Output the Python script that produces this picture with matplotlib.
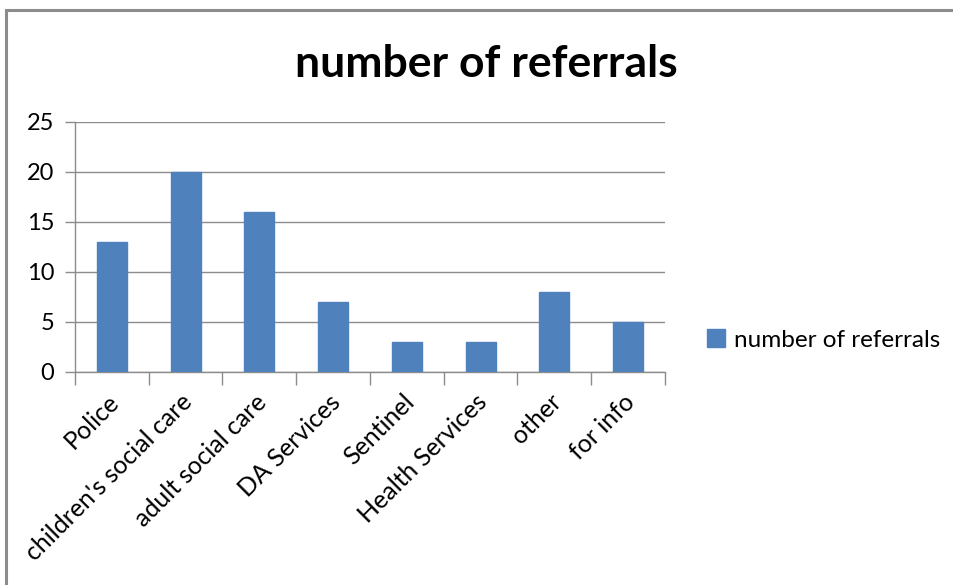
import matplotlib
matplotlib.use("Agg")
import matplotlib.pyplot as plt
import matplotlib.transforms as mtransforms
from matplotlib.patches import Rectangle
import numpy as np

categories = ["Police", "children's social care", "adult social care", "DA Services",
              "Sentinel", "Health Services", "other", "for info"]
referrals = [13, 20, 16, 7, 3, 3, 8, 5]
series_name = "number of referrals"
y_ticks = [0, 5, 10, 15, 20, 25]

W, H = 954, 585
fig = plt.figure(figsize=(W / 100, H / 100), dpi=100)
plt.rcParams['font.family'] = ['Lato', 'DejaVu Sans']

# outer chart frame
fig.patches.append(Rectangle((6 / W, -0.1), 1.2, 1 - 10 / H + 0.1, transform=fig.transFigure,
                             fill=False, edgecolor='#8c8c8c', linewidth=2.2))

left, right, top, bottom = 75, 665, 122, 372
ax = fig.add_axes([left / W, 1 - bottom / H, (right - left) / W, (bottom - top) / H])

x = np.arange(len(categories))
ax.bar(x, referrals, width=0.41, color='#4f81bd', edgecolor='#4f81bd', zorder=3,
       label=series_name)

ax.set_xlim(-0.5, len(categories) - 0.5)
ax.set_ylim(0, 25)
ax.set_yticks(y_ticks)
ax.set_yticklabels([str(v) for v in y_ticks], fontsize=17)
ax.yaxis.grid(True, color='#8c8c8c', linewidth=1.0, zorder=0)
ax.tick_params(axis='y', length=7, color='#8c8c8c', pad=8, width=1)

# category tick marks sit on boundaries, labels sit on bar centres
ax.set_xticks(np.arange(len(categories) + 1) - 0.5)
ax.set_xticklabels([])
ax.tick_params(axis='x', which='major', length=9, color='#8c8c8c', width=1)
ax.set_xticks(x, minor=True)
ax.set_xticklabels(categories, minor=True, rotation=45, ha='right',
                   rotation_mode='anchor', fontsize=18)
ax.tick_params(axis='x', which='minor', length=0, pad=13)
shift = mtransforms.ScaledTranslation(-5 / 100, 0, fig.dpi_scale_trans)
for lbl in ax.get_xticklabels(minor=True):
    lbl.set_transform(lbl.get_transform() + shift)

for side in ['top', 'right']:
    ax.spines[side].set_visible(False)
for side in ['left', 'bottom']:
    ax.spines[side].set_color('#8c8c8c')
    ax.spines[side].set_linewidth(1.0)

fig.text(486 / W, 1 - 64 / H, series_name, ha='center', va='center',
         fontsize=32, fontweight='bold')

fig.legend(loc='center left', bbox_to_anchor=(695 / W, 1 - 340 / H), frameon=False,
           fontsize=17.5, handlelength=0.75, handleheight=0.75, handletextpad=0.35,
           borderpad=0)

fig.savefig("out.png", dpi=100, facecolor='white')
